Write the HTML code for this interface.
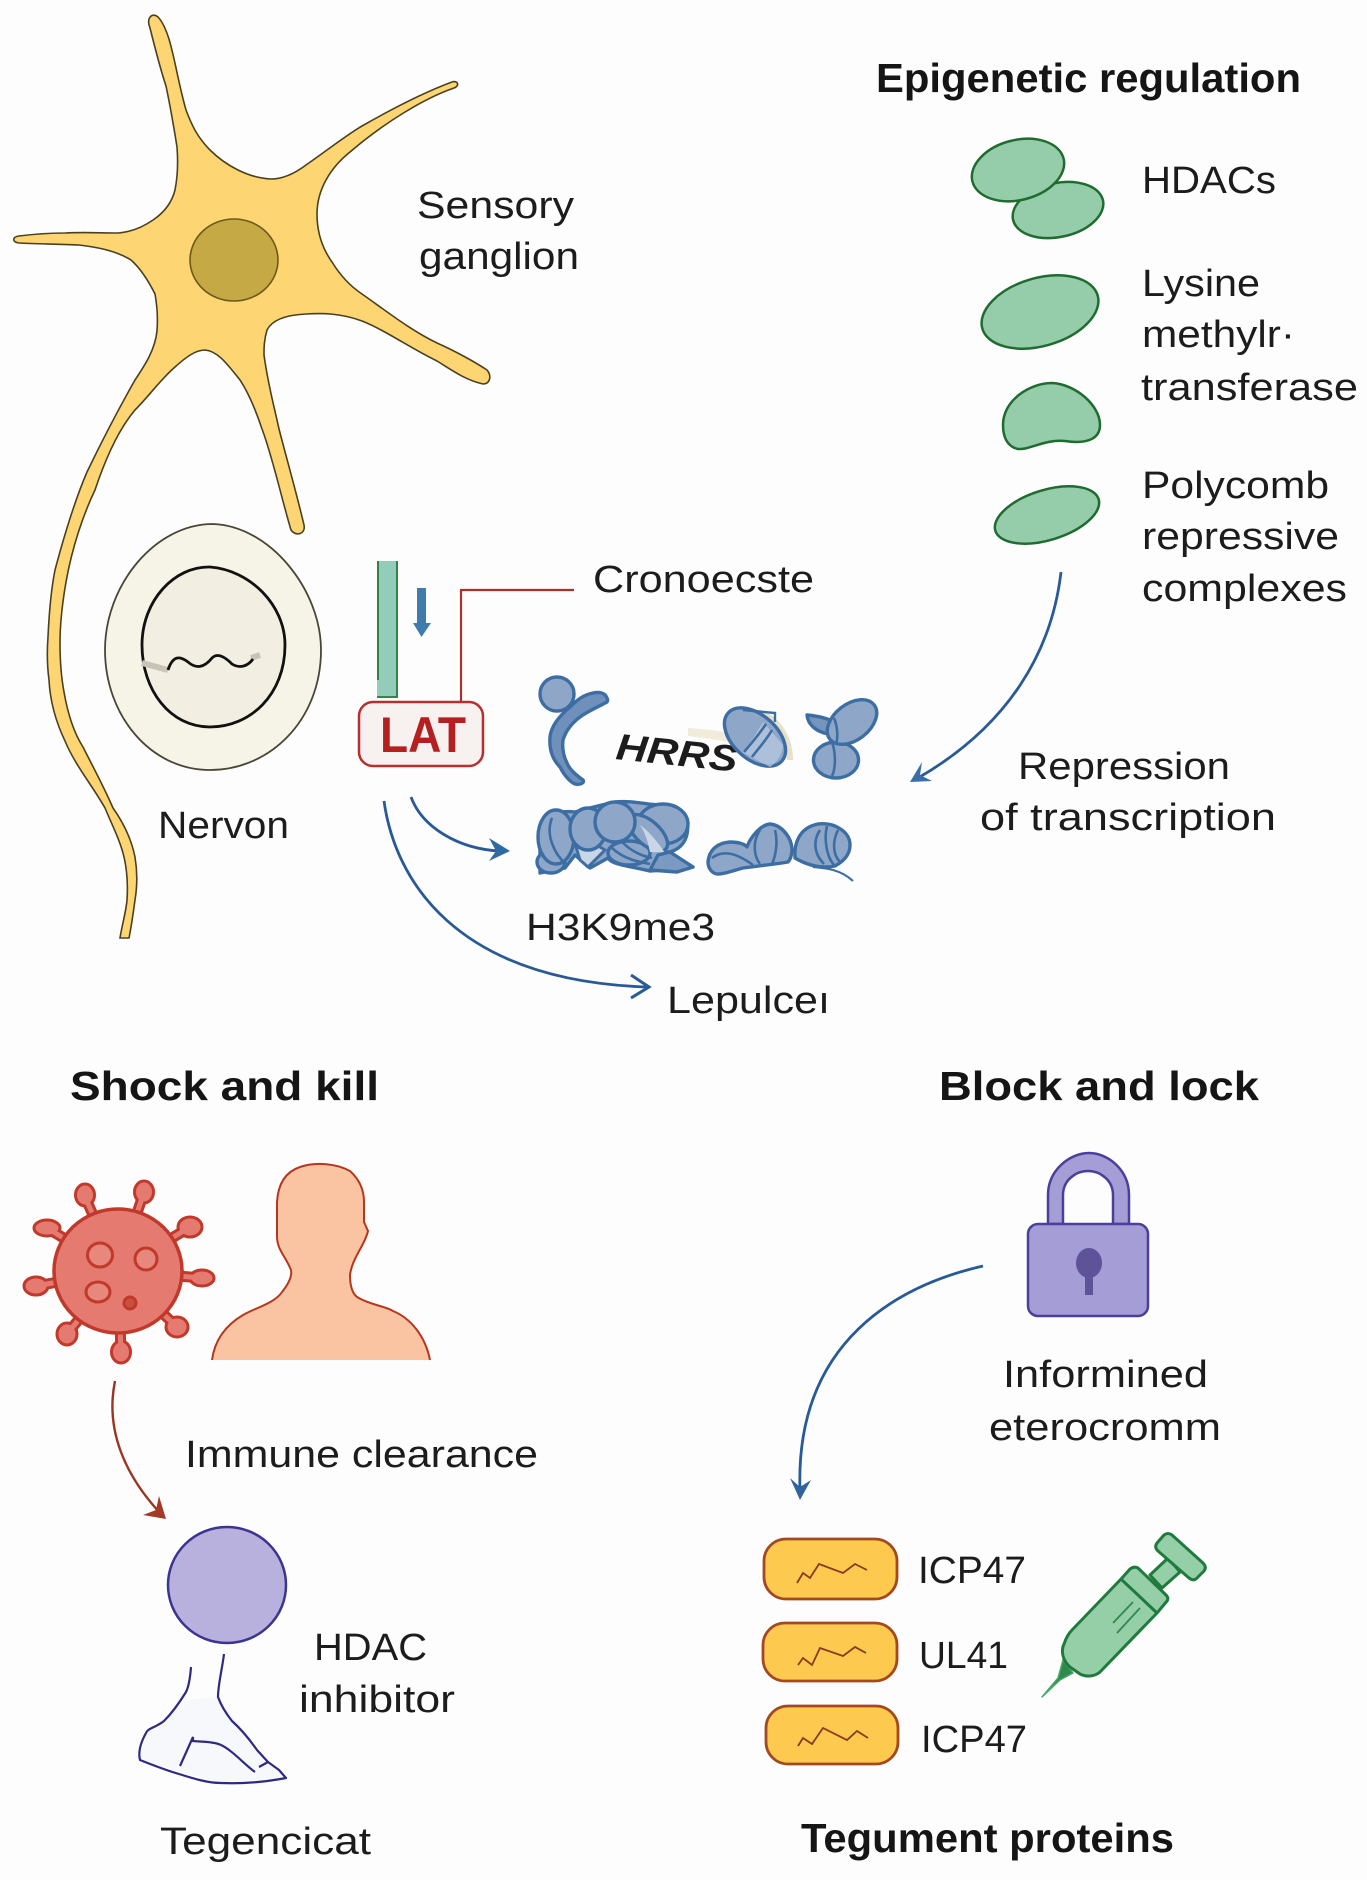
<!DOCTYPE html>
<html><head><meta charset="utf-8"><style>
html,body{margin:0;padding:0;background:#fdfdfd}
svg{display:block}
text{font-family:"Liberation Sans",sans-serif;fill:#1c1c1c;font-size:38px}
.b{font-weight:bold;font-size:41px;fill:#151515}
.c{fill:#8ea7c8;stroke:#3d6ea3;stroke-width:3.4;stroke-linejoin:round}
.l{fill:none;stroke:#3d6ea3;stroke-width:2.6}
.g{fill:#95cca9;stroke:#1f6b30;stroke-width:2.5}
.p{fill:#fec94f;stroke:#a3481f;stroke-width:2.8}
.q{fill:none;stroke:#8a3a20;stroke-width:1.8}
.s{fill:#94cfa8;stroke:#207a3d;stroke-width:3;stroke-linejoin:round}
</style></head><body>
<svg width="1367" height="1880" viewBox="0 0 1367 1880" xmlns="http://www.w3.org/2000/svg">
<rect width="1367" height="1880" fill="#fdfdfd"/>

<!-- neuron -->
<path fill="#fdd673" stroke="#4a4020" stroke-width="1.6" d="M150 28 C146 18 152 12 158 17 C172 32 175 72 186 110 C192 126 198 138 210 150 C225 165 248 178 271 179 C285 179 298 171 306 165 C325 152 345 136 362 126 C390 110 425 92 452 82 C458 80 460 86 454 88 C425 98 385 122 350 152 C330 168 317 190 317 214 C317 232 322 248 332 262 C340 275 350 286 362 294 C385 310 410 330 437 343 C455 351 475 362 487 370 C492 376 490 384 483 384 C465 380 450 369 437 361 C410 348 385 330 362 321 C340 313 322 313 306 314 C285 315 272 320 267 330 C264 340 264 348 264 355 C268 385 275 410 279 429 C287 460 297 495 304 525 C306 534 296 537 291 530 C282 500 272 455 262 429 C255 408 248 392 240 380 C228 365 218 351 205 350 C195 350 185 358 175 367 C160 380 150 395 135 410 C118 430 105 460 95 490 C83 515 72 548 66 582 C62 605 60 625 60 643 C60 660 61 676 64 692 C68 715 74 733 83 747 C92 765 103 785 113 808 C125 825 132 842 135 857 C138 875 137 888 135 900 C133 915 131 928 129 938 L120 938 C122 925 126 912 127 900 C128 885 127 870 124 857 C120 840 112 825 105 808 C92 785 75 765 65 741 C55 720 50 700 49 680 C47 665 47 650 48 637 C49 615 51 590 55 570 C63 540 75 500 87 472 C100 445 118 410 135 380 C145 365 155 350 157 331 C158 318 157 305 155 294 C148 280 140 268 131 260 C115 250 95 247 79 245 C60 244 35 244 19 243 C12 242 12 237 19 236 C35 234 50 233 65 233 C85 232 100 233 118 233 C132 232 143 227 153 220 C165 212 172 202 175 190 C178 175 178 160 177 147 C174 128 170 105 166 86 C160 68 155 48 150 28 Z"/>
<ellipse cx="234" cy="260" rx="44" ry="41" fill="#c4a944" stroke="#6c5a1c" stroke-width="1.6"/>

<!-- cell -->
<path fill="#f6f3e7" stroke="#4a4636" stroke-width="1.8" d="M213 524 C270 526 321 590 321 650 C321 720 270 770 210 770 C150 770 105 715 105 650 C105 585 155 524 213 524 Z"/>
<path fill="#f2eee1" stroke="#111" stroke-width="2.8" d="M210 567 C250 570 285 605 285 645 C285 695 250 727 210 727 C170 727 142 690 142 645 C142 600 175 566 210 567 Z"/>
<path d="M142 663 L168 670" stroke="#c9c5b6" stroke-width="6" fill="none"/>
<path d="M251 658 L260 655" stroke="#c9c5b6" stroke-width="6" fill="none"/>
<path d="M168 670 C173 655 180 656 188 662 C196 669 204 668 212 658 C218 652 226 658 232 664 C240 669 248 666 253 659" stroke="#111" stroke-width="2.8" fill="none"/>

<!-- bar, arrow, LAT -->
<rect x="377" y="561" width="21" height="137" fill="#93cdb9"/>
<path d="M378 561 V680 M397 561 V697 H377" stroke="#2a7a3a" stroke-width="1.8" fill="none"/>
<path d="M417 588 H426 V623 H431 L421.500 637 L413 623 H417 Z" fill="#3f7cac"/>
<path d="M461 702 V590 H574" stroke="#a5332c" stroke-width="2.2" fill="none"/>
<rect x="359" y="702" width="124" height="64" rx="14" fill="#f7f1f0" stroke="#b5302e" stroke-width="2.5"/>
<text x="380" y="752" font-weight="bold" style="font-size:50px;fill:#b3201f" textLength="86" lengthAdjust="spacingAndGlyphs">LAT</text>

<!-- chromatin row 1 -->
<ellipse cx="557" cy="694" rx="17" ry="17" class="c"/>
<path class="c" style="fill:#6e90ba" d="M607 698 C605 692 598 692 593 693 C583 695 577 700 570 707 C558 717 551 727 550 737 C549 750 553 760 560 767 C564 775 570 782 575 784 C580 785 585 783 583 780 C576 775 570 770 567 763 C563 755 562 748 563 740 C566 730 572 723 580 717 C588 711 598 707 605 703 C608 702 608 700 607 698 Z"/>
<path d="M688 728 C705 729 725 731 740 736 L745 745 C725 741 705 738 688 736 Z" fill="#f1ebdb"/>
<path d="M763 714 C780 722 790 740 790 760" fill="none" stroke="#e9e0c8" stroke-width="6"/>
<text x="615" y="759" style="font-size:37px;fill:#1c1c1c" font-weight="bold" font-style="italic" textLength="122" lengthAdjust="spacingAndGlyphs" transform="rotate(6 615 759)">HRRS</text>
<ellipse cx="755" cy="737" rx="36" ry="22" transform="rotate(42 755 737)" class="c"/>
<path d="M743 710 L775 713 V722" fill="none" stroke="#3d6ea3" stroke-width="2.4"/>
<path d="M763 722 C755 735 750 745 742 752 L770 767 C780 760 783 750 783 745 Z" fill="#bccbdf" opacity=".7"/>
<path class="l" d="M766 724 C758 736 750 745 744 752 M772 730 C765 742 757 750 752 757"/>
<path class="c" style="fill:#7595bd" d="M807 715 C818 716 828 718 835 723 L828 734 C818 732 808 726 807 715 Z"/>
<ellipse cx="836" cy="760" rx="22.500" ry="18" class="c"/>
<ellipse cx="852" cy="722" rx="28" ry="18" transform="rotate(-38 852 722)" class="c"/>
<path class="l" d="M831 740 C836 750 836 768 832 776 M834 718 C838 728 838 738 836 745"/>

<!-- chromatin row 2 -->
<path class="c" d="M540 835 C540 815 560 810 575 812 C590 808 600 805 615 802 C635 800 650 806 665 805 C685 808 692 825 685 840 C680 850 670 852 668 852 L693 867 L650 871 C630 866 612 865 608 858 L590 868 L575 855 L565 868 L540 873 Z"/>
<ellipse cx="551" cy="862" rx="14" ry="11" class="c"/>
<ellipse cx="556" cy="837" rx="18" ry="27" class="c"/>
<path class="l" d="M552 818 C545 835 555 855 566 864"/>
<path d="M570 827 L580 860 L588 867 L605 850 L593 843 Z" fill="#cad6e6" stroke="#3d6ea3" stroke-width="3" stroke-linejoin="round"/>
<ellipse cx="588" cy="829" rx="18" ry="21" class="c"/>
<ellipse cx="629" cy="853" rx="21" ry="12" class="c"/>
<ellipse cx="663" cy="824" rx="25" ry="20" class="c"/>
<ellipse cx="648" cy="833" rx="24" ry="12" transform="rotate(42 648 833)" class="c"/>
<path d="M640 825 C650 832 660 845 665 853 L650 852 C648 842 645 832 640 825 Z" fill="#cad6e6"/>
<path class="l" d="M612 848 C625 860 640 862 650 864 M622 842 C632 852 642 856 652 858"/>
<ellipse cx="615" cy="822" rx="20" ry="20" class="c"/>
<path class="c" style="fill:#7a9ac1" d="M650 870 L658 855 L670 852 L693 867 L677 872 Z"/>
<path class="c" d="M708 862 C709 850 717 843 730 842 C738 842 745 844 747 847 C750 838 760 825 770 824 C782 825 792 838 792 850 C792 855 790 860 788 862 C770 865 755 866 743 868 C735 870 725 874 718 874 C712 874 708 868 708 862 Z"/>
<path class="l" d="M712 858 C722 850 735 852 753 865 M760 830 C753 840 753 855 760 864 M775 830 C778 842 776 855 772 864"/>
<path class="c" d="M795 858 C794 845 798 828 818 824 C835 822 850 832 850 845 C850 856 842 862 835 866 C825 868 812 868 795 858 Z"/>
<path class="l" d="M820 830 C812 842 815 855 824 864 M827 826 C824 838 826 856 834 865 M838 830 C832 842 833 855 840 862"/>
<path d="M813 867 C825 868 840 869 853 881" fill="none" stroke="#3d6ea3" stroke-width="2.200"/>

<!-- blue arrows -->
<path d="M411 797 C422 827 458 849 500 851" fill="none" stroke="#2a5a96" stroke-width="2.800"/>
<path d="M510 851 L489 838 L496 851 L489 861 Z" fill="#2f6aa3"/>
<path d="M384 801 C395 880 455 980 646 987" fill="none" stroke="#2a5a96" stroke-width="2.800"/>
<path d="M631 975 L649 987 L631 998" fill="none" stroke="#2a5a96" stroke-width="3"/>
<path d="M1061 572 C1052 650 1010 725 918 778" fill="none" stroke="#2a5a96" stroke-width="2.800"/>
<path d="M910 782 L932 781 L920 775 L922 762 Z" fill="#3a6ea8"/>

<!-- green blobs -->
<ellipse cx="1058" cy="210" rx="46" ry="27" transform="rotate(-12 1058 210)" class="g"/>
<ellipse cx="1018" cy="170" rx="47" ry="30" transform="rotate(-14 1018 170)" class="g"/>
<ellipse cx="1040" cy="312" rx="60" ry="34" transform="rotate(-16 1040 312)" class="g"/>
<path class="g" d="M1003 425 C1003 400 1030 383 1052 383 C1075 384 1100 405 1100 425 C1100 440 1085 444 1065 441 C1045 439 1030 450 1018 449 C1008 447 1003 438 1003 425 Z"/>
<ellipse cx="1047" cy="515" rx="54" ry="25" transform="rotate(-17 1047 515)" class="g"/>

<!-- virus -->
<g stroke="#c0392b" stroke-width="11">
<path d="M118 1271 L85 1197 M118 1271 L144 1192 M118 1271 L190 1227 M118 1271 L202 1278 M118 1271 L177 1327 M118 1271 L121 1352 M118 1271 L67 1334 M118 1271 L36 1286 M118 1271 L47 1228"/>
</g>
<g fill="#e57b70" stroke="#c0392b" stroke-width="3">
<ellipse cx="85" cy="1195" rx="9.500" ry="11"/><ellipse cx="144" cy="1192" rx="9.500" ry="11"/><ellipse cx="190" cy="1227" rx="12" ry="10"/><ellipse cx="202" cy="1278" rx="12" ry="8"/><ellipse cx="177" cy="1327" rx="11" ry="10"/><ellipse cx="121" cy="1352" rx="9.500" ry="11"/><ellipse cx="67" cy="1334" rx="10" ry="11"/><ellipse cx="36" cy="1286" rx="12" ry="9"/><ellipse cx="47" cy="1228" rx="13" ry="8"/>
</g>
<g stroke="#e57b70" stroke-width="5">
<path d="M118 1271 L85 1197 M118 1271 L144 1192 M118 1271 L190 1227 M118 1271 L202 1278 M118 1271 L177 1327 M118 1271 L121 1352 M118 1271 L67 1334 M118 1271 L36 1286 M118 1271 L47 1228"/>
</g>
<ellipse cx="118" cy="1271" rx="64" ry="62" fill="#e57b70" stroke="#c0392b" stroke-width="3.500"/>
<g fill="#e8877c" stroke="#c0392b" stroke-width="3">
<ellipse cx="100" cy="1255" rx="12.500" ry="12"/><ellipse cx="146" cy="1259" rx="11" ry="11"/><ellipse cx="98" cy="1292" rx="12" ry="10"/><ellipse cx="130" cy="1303" rx="6" ry="6" fill="#c9503f"/>
</g>

<!-- person -->
<path fill="#fac4a2" d="M212 1360 C214 1345 221 1328 243 1315 C255 1308 275 1303 282 1292 C290 1282 292 1275 291 1270 C285 1255 277 1250 277 1236 V1202 C278 1185 285 1172 300 1167 C315 1162 335 1163 350 1171 C360 1180 364 1190 364 1202 V1222 L368 1231 C365 1245 352 1258 350 1275 C350 1285 352 1293 357 1297 C370 1305 385 1306 393 1311 C410 1318 425 1335 430 1360 Z"/>
<path fill="none" stroke="#b5371f" stroke-width="2" d="M212 1360 C214 1345 221 1328 243 1315 C255 1308 275 1303 282 1292 C290 1282 292 1275 291 1270 C285 1255 277 1250 277 1236 V1202 C278 1185 285 1172 300 1167 C315 1162 335 1163 350 1171 C360 1180 364 1190 364 1202 V1222 L368 1231 C365 1245 352 1258 350 1275 C350 1285 352 1293 357 1297 C370 1305 385 1306 393 1311 C410 1318 425 1335 430 1360"/>

<!-- red arrow -->
<path d="M115 1381 C105 1430 125 1475 160 1513" fill="none" stroke="#9b3522" stroke-width="2.400"/>
<path d="M166 1519 L143 1515 L156 1510 L159 1496 Z" fill="#a33a26"/>

<!-- purple figure -->
<ellipse cx="227" cy="1585" rx="59" ry="58" fill="#b8b0dd" stroke="#3c3590" stroke-width="2.500"/>
<path fill="#f7f8fb" stroke="none" d="M146 1733 L186 1700 L218 1697 L268 1762 L286 1778 L221 1783 L140 1760 Z"/>
<path fill="none" stroke="#2f2a80" stroke-width="2.200" stroke-linejoin="round" d="M191 1667 C190 1680 188 1688 186 1692 C178 1705 170 1715 164 1721 C155 1728 148 1728 146 1733 C141 1742 138 1752 140 1760 C155 1766 165 1770 179 1774 C195 1779 208 1783 221 1783 C245 1784 265 1782 286 1778 L279 1770 L268 1762 L259 1767"/>
<path fill="none" stroke="#2f2a80" stroke-width="2.200" d="M224 1654 C222 1670 218 1685 218 1697 C222 1708 228 1716 232 1721 C242 1730 250 1740 257 1750 L268 1762"/>
<path fill="none" stroke="#2f2a80" stroke-width="2.200" d="M180 1766 L193 1737 L193 1741 C205 1742 215 1742 221 1745 C232 1750 245 1765 255 1772"/>

<!-- lock -->
<path fill="#a59dd5" stroke="#4b3f9c" stroke-width="2.500" d="M1048 1224 V1195 C1048 1170 1070 1153 1089 1153 C1108 1153 1129 1170 1129 1195 V1224 H1113 V1195 C1113 1180 1100 1171 1088 1171 C1076 1171 1063 1180 1063 1195 V1224 Z"/>
<rect x="1028" y="1224" width="120" height="92" rx="10" fill="#a59dd5" stroke="#4b3f9c" stroke-width="2.500"/>
<ellipse cx="1089" cy="1263" rx="13" ry="15" fill="#5e5299"/>
<path d="M1085 1270 H1093 V1295 H1085 Z" fill="#5e5299"/>

<!-- lock arrow -->
<path d="M983 1266 C900 1285 795 1340 800 1490" fill="none" stroke="#275a96" stroke-width="2.800"/>
<path d="M800 1500 L790 1478 L800 1487 L811 1480 Z" fill="#2f649e"/>

<!-- pills -->
<rect x="764" y="1539" width="133" height="60" rx="22" class="p"/>
<rect x="763" y="1623" width="134" height="58" rx="22" class="p"/>
<rect x="766" y="1706" width="132" height="58" rx="22" class="p"/>
<polyline class="q" points="797,1583 803,1573 810,1578 819,1564 843,1573 855,1564 867,1570"/>
<polyline class="q" points="798,1665 803,1658 812,1665 820,1648 843,1656 855,1647 866,1653"/>
<polyline class="q" points="798,1746 803,1738 812,1744 823,1728 847,1740 857,1731 868,1738"/>

<!-- syringe -->
<path d="M1063 1660 L1058 1678 L1042 1697 L1060 1680 L1073 1673 Z" fill="#2e8b4c" stroke="#4fa56a" stroke-width="1.500" stroke-linejoin="round"/>
<path class="s" d="M1150 1575 L1168 1558 L1180 1572 L1162 1588 Z"/>
<path class="s" d="M1157 1543 L1164 1535 Q1168 1532 1172 1535 L1203 1563 Q1207 1567 1204 1571 L1196 1579 Q1193 1581 1189 1578 L1158 1551 Q1154 1547 1157 1543 Z"/>
<path class="s" d="M1122 1578 L1130 1569 Q1134 1566 1138 1568 L1166 1595 Q1169 1598 1167 1601 L1157 1613 L1100 1672 C1094 1677 1086 1677 1080 1674 L1070 1667 C1062 1660 1061 1650 1064 1644 C1066 1638 1069 1633 1072 1630 Z"/>
<path d="M1122 1580 L1157 1613" stroke="#207a3d" stroke-width="3" fill="none"/>
<path d="M1113 1623 L1133 1602 M1117 1633 L1140 1608" stroke="#2f8a4e" stroke-width="1.800" fill="none"/>

<!-- labels -->
<text x="417" y="218" textLength="157" lengthAdjust="spacingAndGlyphs">Sensory</text>
<text x="419" y="269" textLength="160" lengthAdjust="spacingAndGlyphs">ganglion</text>
<text x="158" y="838" textLength="131" lengthAdjust="spacingAndGlyphs">Nervon</text>
<text x="593" y="592" textLength="221" lengthAdjust="spacingAndGlyphs">Cronoecste</text>
<text x="526" y="940" textLength="189" lengthAdjust="spacingAndGlyphs">H3K9me3</text>
<text x="667" y="1013" textLength="163" lengthAdjust="spacingAndGlyphs">Lepulceı</text>
<text class="b" x="876" y="92" textLength="425" lengthAdjust="spacingAndGlyphs">Epigenetic regulation</text>
<text x="1142" y="193" textLength="134" lengthAdjust="spacingAndGlyphs">HDACs</text>
<text x="1142" y="296" textLength="118" lengthAdjust="spacingAndGlyphs">Lysine</text>
<text x="1142" y="347" textLength="153" lengthAdjust="spacingAndGlyphs">methylr·</text>
<text x="1141" y="400" textLength="217" lengthAdjust="spacingAndGlyphs">transferase</text>
<text x="1142" y="498" textLength="187" lengthAdjust="spacingAndGlyphs">Polycomb</text>
<text x="1142" y="549" textLength="197" lengthAdjust="spacingAndGlyphs">repressive</text>
<text x="1142" y="601" textLength="205" lengthAdjust="spacingAndGlyphs">complexes</text>
<text x="1018" y="779" textLength="212" lengthAdjust="spacingAndGlyphs">Repression</text>
<text x="980" y="830" textLength="296" lengthAdjust="spacingAndGlyphs">of transcription</text>
<text class="b" x="70" y="1100" textLength="309" lengthAdjust="spacingAndGlyphs">Shock and kill</text>
<text class="b" x="939" y="1100" textLength="320" lengthAdjust="spacingAndGlyphs">Block and lock</text>
<text x="185" y="1467" textLength="353" lengthAdjust="spacingAndGlyphs">Immune clearance</text>
<text x="314" y="1660" textLength="113" lengthAdjust="spacingAndGlyphs">HDAC</text>
<text x="299" y="1712" textLength="156" lengthAdjust="spacingAndGlyphs">inhibitor</text>
<text x="160" y="1854" textLength="211" lengthAdjust="spacingAndGlyphs">Tegencicat</text>
<text x="1003" y="1387" textLength="205" lengthAdjust="spacingAndGlyphs">Informined</text>
<text x="989" y="1440" textLength="232" lengthAdjust="spacingAndGlyphs">eterocromm</text>
<text x="918" y="1583" textLength="108" lengthAdjust="spacingAndGlyphs">ICP47</text>
<text x="919" y="1668" textLength="89" lengthAdjust="spacingAndGlyphs">UL41</text>
<text x="921" y="1752" textLength="106" lengthAdjust="spacingAndGlyphs">ICP47</text>
<text class="b" x="801" y="1852" textLength="373" lengthAdjust="spacingAndGlyphs">Tegument proteins</text>
</svg>
</body></html>
